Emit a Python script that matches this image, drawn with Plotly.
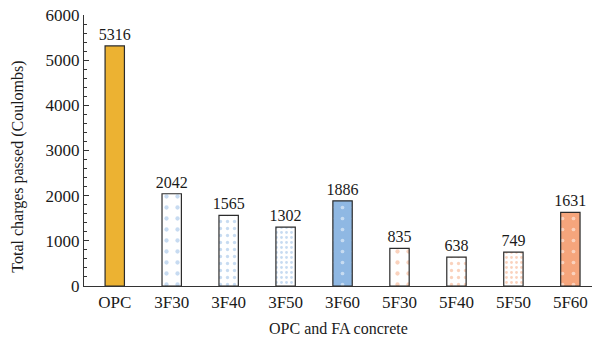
import plotly.graph_objects as go

# Rapid chloride permeability results
mixes = ["OPC", "3F30", "3F40", "3F50", "3F60", "5F30", "5F40", "5F50", "5F60"]
charges = [5316, 2042, 1565, 1302, 1886, 835, 638, 749, 1631]

GOLD = "#ECB232"
BLUE = "#8FB8E3"
SALMON = "#F5A57C"
FONT = "Liberation Serif"
INK = "#1a1a1a"

# per-bar fill: base colour, dot colour, dot cell size, dot solidity
styles = {
    "OPC":  (GOLD,   None,    0,  0),
    "3F30": ("white", BLUE,   11, 0.12),
    "3F40": ("white", BLUE,   7,  0.18),
    "3F50": ("white", BLUE,   5,  0.24),
    "3F60": (BLUE,   "white", 11, 0.09),
    "5F30": ("white", SALMON, 11, 0.12),
    "5F40": ("white", SALMON, 7,  0.18),
    "5F50": ("white", SALMON, 5,  0.24),
    "5F60": (SALMON, "white", 11, 0.09),
}

fig = go.Figure()
for name, val in zip(mixes, charges):
    base, dot, cell, solid = styles[name]
    pattern = dict(shape="") if dot is None else dict(
        shape=".", fgcolor=dot, size=cell, solidity=solid, fillmode="overlay"
    )
    fig.add_trace(
        go.Bar(
            x=[name],
            y=[val],
            width=0.34,
            marker=dict(color=base, line=dict(color="#2b2b2b", width=1.2), pattern=pattern),
            text=[str(val)],
            textposition="outside",
            constraintext="none",
            textfont=dict(family=FONT, size=16, color=INK),
            cliponaxis=False,
            name=name,
        )
    )

fig.update_layout(
    width=596,
    height=343,
    margin=dict(l=84, r=4, t=15, b=57),
    plot_bgcolor="white",
    paper_bgcolor="white",
    showlegend=False,
    barmode="overlay",
    font=dict(family=FONT, size=17, color=INK),
    xaxis=dict(
        type="category",
        categoryorder="array",
        categoryarray=mixes,
        range=[-0.54, 8.38],
        showline=True,
        linecolor="#333",
        linewidth=1.2,
        ticks="",
        showgrid=False,
        tickfont=dict(family=FONT, size=17, color=INK),
    ),
    yaxis=dict(
        range=[0, 6000],
        dtick=1000,
        showline=True,
        linecolor="#333",
        linewidth=1.2,
        ticks="inside",
        ticklen=5,
        tickcolor="#333",
        showgrid=False,
        zeroline=False,
        minor=dict(dtick=200, ticks="inside", ticklen=3, tickcolor="#333"),
        tickfont=dict(family=FONT, size=17, color=INK),
    ),
    annotations=[
        dict(
            text="Total charges passed (Coulombs)",
            xref="paper", yref="paper",
            x=-0.13, y=0.44,
            xanchor="center", yanchor="middle",
            textangle=-90, showarrow=False,
            font=dict(family=FONT, size=16, color=INK),
        ),
        dict(
            text="OPC and FA concrete",
            xref="paper", yref="paper",
            x=0.5, y=-0.155,
            xanchor="center", yanchor="middle",
            showarrow=False,
            font=dict(family=FONT, size=16, color=INK),
        ),
    ],
)

fig.write_html("out.html")
